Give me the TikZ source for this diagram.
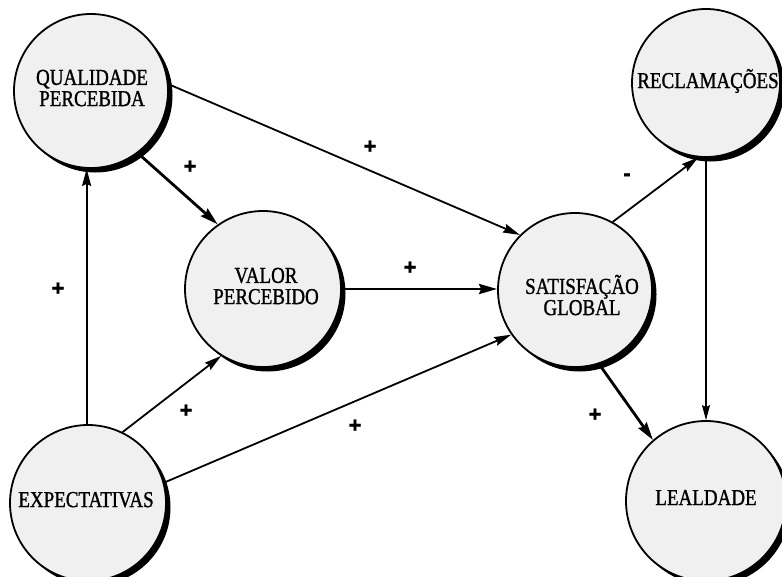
\documentclass[tikz,border=0pt]{standalone}
\usepackage{fontspec}
\setmainfont{Liberation Serif}
\newfontfamily\bubfont[FakeBold=1.2]{Liberation Serif}
\newfontfamily\plusfont[FakeBold=1.5]{Liberation Sans}
\usepackage{graphicx}
\usetikzlibrary{arrows.meta,shadows}
\definecolor{cfill}{RGB}{240,240,240}
\newcommand{\clabel}[1]{\scalebox{1}[1.2]{\begin{tabular}{@{}c@{}}#1\end{tabular}}}
\begin{document}
\begin{tikzpicture}[x=1pt,y=-1pt,
  bubble/.style={circle, draw=black, line width=1.8pt, fill=cfill, inner sep=0pt,
    drop shadow={shadow xshift=4.5pt, shadow yshift=-4.5pt, fill=black, opacity=1}},
  txt/.style={inner sep=0pt, font=\bubfont\fontsize{19}{17}\selectfont},
  sgn/.style={inner sep=0pt, font=\plusfont\bfseries\fontsize{22}{22}\selectfont},
  linkthin/.style={line width=1.8pt, -{Stealth[length=17pt,width=9pt,inset=2pt]}},
  linkthick/.style={line width=2.8pt, -{Stealth[length=18pt,width=10pt,inset=2pt]}}]
\useasboundingbox (0,0) rectangle (782,576);
\fill[white] (0,0) rectangle (782,576);

\node[bubble, minimum size=154pt] (Q) at (91,91) {};
\node[bubble, minimum size=156pt] (V) at (263,289) {};
\node[bubble, minimum size=154pt] (S) at (575,290) {};
\node[bubble, minimum size=148pt] (R) at (706,83) {};
\node[bubble, minimum size=160pt] (L) at (706,501) {};
\node[bubble, minimum size=156pt] (E) at (88,503) {};

\node[txt] (tQ) at (92,91) {\clabel{QUALIDADE\\PERCEBIDA}};
\node[txt] (tV) at (266,289) {\clabel{VALOR\\PERCEBIDO}};
\node[txt] (tS) at (582,298) {\clabel{SATISFAÇÃO\\GLOBAL}};
\node[txt] (tR) at (708,81.6) {\clabel{RECLAMAÇÕES}};
\node[txt] (tL) at (706,500.6) {\clabel{LEALDADE}};
\node[txt] (tE) at (86,502.6) {\clabel{EXPECTATIVAS}};

\draw[linkthin] (Q.5) -- (S.135);
\draw[linkthick] (Q.-53) -- (V.125);
\draw[linkthin] (E.91) -- (Q.south -| E.91);
\draw[linkthin] (E.64) -- (V.-122);
\draw[linkthin] (E.15) -- (S.-145);
\draw[linkthick] (V.east) -- (S.west |- V.east);
\draw[linkthin] (S.61) -- (R.-96);
\draw[linkthick] (S.-72) -- (L.131);
\draw[line width=1.3pt, -{Stealth[length=15pt,width=8pt,inset=2pt]}] (R.south) -- (L.north);

\node[sgn] (p1) at (370,147) {+};
\node[sgn] (p2) at (190,167) {+};
\node[sgn] (p3) at (58,289) {+};
\node[sgn] (p4) at (186,411) {+};
\node[sgn] (p5) at (355,426) {+};
\node[sgn] (p6) at (410,268) {+};
\node[sgn] (p7) at (627,177) {-};
\node[sgn] (p8) at (595,415) {+};
\end{tikzpicture}
\end{document}
